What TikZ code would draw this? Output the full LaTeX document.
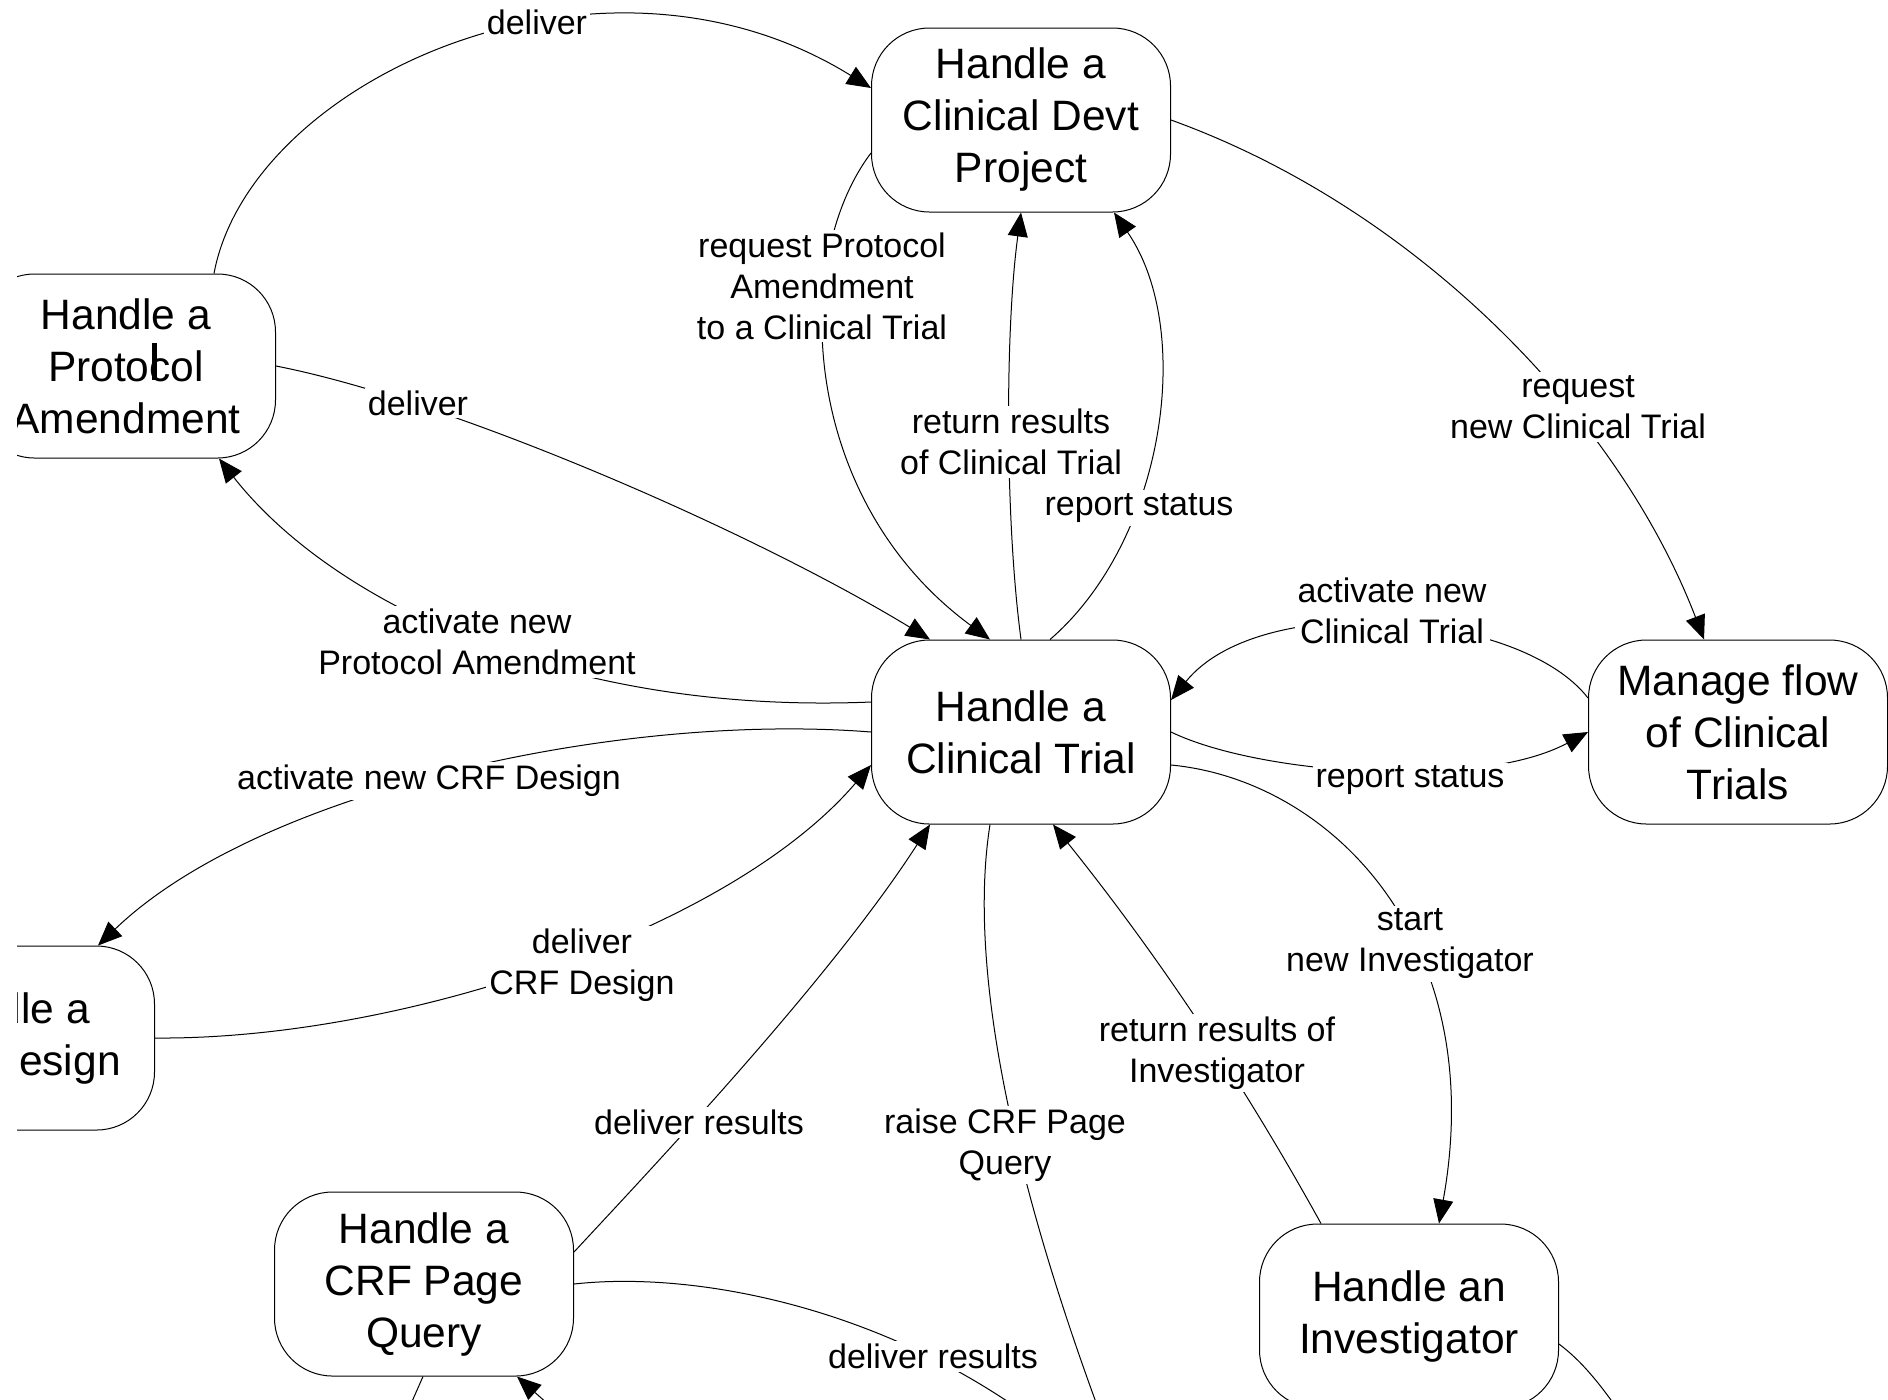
\documentclass[tikz,border=0pt]{standalone}
\usepackage{fontspec}
\setmainfont{Liberation Sans}
\usetikzlibrary{arrows.meta,calc}

\tikzset{
  proc/.style={draw=black, line width=0.5pt, fill=white, rounded corners=29pt,
    minimum width=149.5pt, minimum height=92pt, inner sep=0pt, align=center,
    font=\fontsize{21.25pt}{26pt}\selectfont},
  flow/.style={line width=0.5pt, -{Triangle[length=12pt,width=10pt]}},
  plain/.style={line width=0.5pt},
  lbl/.style={fill=white, inner sep=1.5pt, align=center,
    font=\fontsize{17pt}{20.5pt}\selectfont},
}

\begin{document}
\begin{tikzpicture}[x=0.5pt,y=-0.5pt]
\useasboundingbox (0,0) rectangle (1888,1399);
\fill[white] (0,0) rectangle (1888,1399);
\begin{scope}
\clip (17,0) rectangle (1888,1399);

% processes
\node[proc] (dp)  at (1021,120)  {Handle a\\Clinical Devt\\Project};
\node[proc] (ct)  at (1021,732)  {Handle a\\Clinical Trial};
\node[proc] (mf)  at (1738,732)  {Manage flow\\of Clinical\\Trials};
\node[proc] (pa)  at (126,366)   {Handle a\\Protocol\\Amendment};
\node[proc] (cd)  at (5,1038)    {Handle a\\CRF Design};
\node[proc] (pq)  at (424,1284)  {Handle a\\CRF Page\\Query};
\node[proc] (inv) at (1409,1316) {Handle an\\Investigator};

% text cursor left in the Protocol label
\fill[black] (152,343) rectangle (157,380);

% far ends of flows leaving the visible area
\coordinate (offA) at (1110,1440);
\coordinate (offB) at (1060,1440);
\coordinate (offC) at (1650,1460);
\coordinate (offD) at (395,1440);
\coordinate (offE) at (575,1428);

% flows
\draw[flow] ($(pa.north)+(88,0)$) .. controls (250,80) and (600,-80) .. ($(dp.west)+(0,-32)$);
\draw[flow] ($(dp.west)+(0,33)$) .. controls (790,260) and (800,500) .. ($(ct.north)+(-31,0)$);
\draw[flow] (ct.north) .. controls (1005,520) and (1005,330) .. (dp.south);
\draw[flow] ($(ct.north)+(29,0)$) .. controls (1165,540) and (1195,330) .. ($(dp.south)+(93,0)$);
\draw[flow] (dp.east) .. controls (1420,210) and (1620,420) .. ($(mf.north)+(-34,0)$);
\draw[flow] (pa.east) .. controls (450,400) and (750,530) .. ($(ct.north)+(-91,0)$);
\draw[flow] ($(ct.west)+(0,-30)$) .. controls (560,715) and (330,600) .. ($(pa.south)+(93,0)$);
\draw[flow] (ct.west) .. controls (620,712) and (260,790) .. ($(cd.north)+(93,0)$);
\draw[flow] (cd.east) .. controls (400,1040) and (730,930) .. ($(ct.west)+(0,33)$);
\draw[flow] ($(pq.east)+(0,-32)$) .. controls (650,1170) and (830,980) .. ($(ct.south)+(-91,0)$);
\draw[plain] ($(ct.south)+(-31,0)$) .. controls (970,950) and (1000,1150) .. (offA);
\draw[flow] ($(inv.north)+(-88,0)$) .. controls (1245,1086) and (1160,958) .. ($(ct.south)+(32,0)$);
\draw[flow] ($(ct.east)+(0,33)$) .. controls (1330,780) and (1490,940) .. ($(inv.north)+(30,0)$);
\draw[flow] ($(mf.west)+(0,-34)$) .. controls (1520,610) and (1260,590) .. ($(ct.east)+(0,-32)$);
\draw[flow] (ct.east) .. controls (1260,775) and (1480,790) .. (mf.west);
\draw[plain] (pq.east) .. controls (700,1270) and (900,1310) .. (offB);
\draw[plain] ($(inv.east)+(0,28)$) .. controls (1580,1360) and (1605,1385) .. (offC);
\draw[plain] ($(pq.south)+(-1,0)$) -- (offD);
\draw[flow] (offE) -- ($(pq.south)+(93,0)$);

% flow labels
\node[lbl] (l1)  at (537,22)   {deliver};
\node[lbl] (l2)  at (822,286)  {request Protocol\\Amendment\\to a Clinical Trial};
\node[lbl] (l3)  at (1011,442) {return results\\of Clinical Trial};
\node[lbl] (l4)  at (1139,508) {report status};
\node[lbl] (l5)  at (1578,407) {request\\new Clinical Trial};
\node[lbl] (l6)  at (418,403)  {deliver};
\node[lbl] (l7)  at (477,642)  {activate new\\Protocol Amendment};
\node[lbl] (l8)  at (429,781)  {activate new CRF Design};
\node[lbl] (l9)  at (582,965)  {deliver\\CRF Design};
\node[lbl] (l10) at (699,1122) {deliver results};
\node[lbl] (l11) at (1005,1145) {raise CRF Page\\Query};
\node[lbl] (l12) at (1217,1053) {return results of\\Investigator};
\node[lbl] (l13) at (1410,944) {start\\new Investigator};
\node[lbl] (l14) at (1392,611) {activate new\\Clinical Trial};
\node[lbl] (l15) at (1410,780) {report status};
\node[lbl] (l16) at (933,1356) {deliver results};
\end{scope}
\end{tikzpicture}
\end{document}
